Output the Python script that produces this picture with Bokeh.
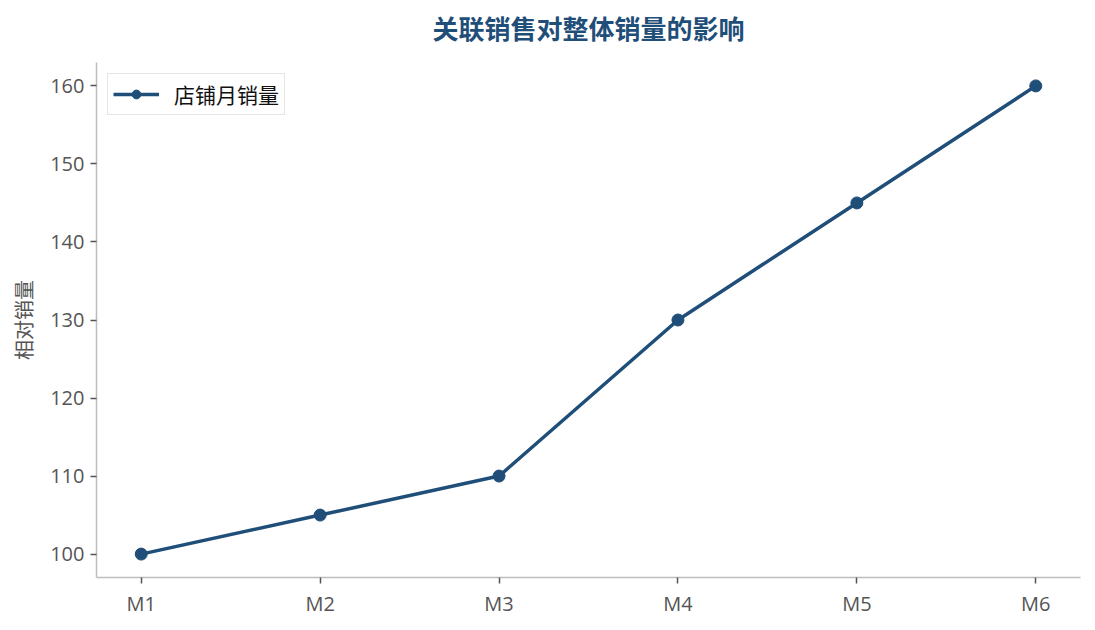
from bokeh.plotting import figure
from bokeh.models import FixedTicker, Range1d, Title, Legend, LegendItem
from bokeh.embed import file_html
from bokeh.resources import INLINE

months = ["M1", "M2", "M3", "M4", "M5", "M6"]
sales = [100, 105, 110, 130, 145, 160]
y_ticks = [100, 110, 120, 130, 140, 150, 160]
series_name = "店铺月销量"
title_text = "关联销售对整体销量的影响"
y_label = "相对销量"

color = "#1f4e79"
axis_color = "#bdbdbd"
label_color = "#555555"
font = "Open Sans, Noto Sans CJK SC"

xs = list(range(len(months)))

p = figure(width=1087, height=622, output_backend="svg", toolbar_location=None,
           title=None,
           x_range=Range1d(-0.25, len(months) - 0.75), y_range=Range1d(97, 163),
           min_border_left=96, min_border_right=7, min_border_top=62, min_border_bottom=45)

# spacer between frame and title (stacked nearest to the frame)
p.add_layout(Title(text=" ", text_font_size="1px", standoff=8), "above")
p.add_layout(Title(text=title_text, align="center", vertical_align="top",
                   text_font="Noto Sans CJK SC", text_font_size="26px",
                   text_font_style="bold", text_color=color, offset=0,
                   standoff=8), "above")

line = p.line(xs, sales, line_color=color, line_width=3.5)
pts = p.scatter(xs, sales, size=12, fill_color=color, line_color=color)

legend = Legend(items=[LegendItem(label=series_name, renderers=[line, pts])],
                location="top_left", label_text_font="Noto Sans CJK SC",
                label_text_font_size="21px", label_text_color="#111111",
                border_line_color="#cccccc", border_line_width=1.5,
                background_fill_alpha=1.0, margin=11, padding=5,
                glyph_width=46, glyph_height=22, label_height=22,
                spacing=0, label_standoff=15)
p.add_layout(legend)

p.xaxis.ticker = FixedTicker(ticks=xs)
p.xaxis.major_label_overrides = {i: m for i, m in enumerate(months)}
p.yaxis.ticker = FixedTicker(ticks=y_ticks)
p.yaxis.axis_label = y_label

for ax in (p.xaxis, p.yaxis):
    ax.axis_line_color = axis_color
    ax.axis_line_width = 1.5
    ax.major_tick_line_color = label_color
    ax.major_tick_line_width = 1.5
    ax.major_tick_in = 0
    ax.major_tick_out = 6
    ax.minor_tick_line_color = None
    ax.major_label_text_font = font
    ax.major_label_text_font_size = "20px"
    ax.major_label_text_color = label_color
    ax.major_label_standoff = 6
    ax.axis_label_text_font = "Noto Sans CJK SC"
    ax.axis_label_text_font_size = "20px"
    ax.axis_label_text_font_style = "normal"
    ax.axis_label_text_color = label_color
    ax.axis_label_standoff = 9

p.xgrid.grid_line_color = None
p.ygrid.grid_line_color = None
p.outline_line_color = None

open("out.html", "w").write(file_html(p, INLINE))
